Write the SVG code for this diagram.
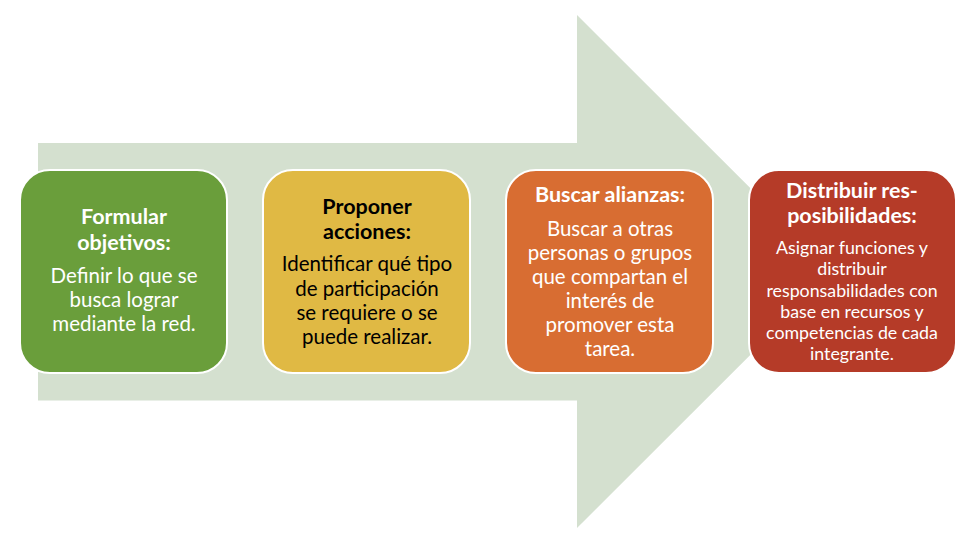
<svg xmlns="http://www.w3.org/2000/svg" width="962" height="538" viewBox="0 0 962 538">
<style>
.box{stroke:#ffffff;stroke-width:2}
text{font-family:Lato,"Open Sans","Liberation Sans",sans-serif;text-anchor:middle}
.t{font-weight:bold;font-size:21.5px}
.b{font-size:20.5px}
.s{font-size:17.8px}
.w{fill:#ffffff}
.k{fill:#000000}
</style>
<rect width="962" height="538" fill="#ffffff"/>
<g id="arrow">
<path d="M38 143 H577 V15 L834 271.5 L577 528 V400.5 H38 Z" fill="#d4e0cf"/>
</g>
<g id="connectors"></g>
<g id="node1">
<rect class="box" x="20" y="170" width="207" height="203" rx="30" fill="#6a9e3b"/>
<text class="t w" x="124" y="224">Formular</text>
<text class="t w" x="124" y="250">objetivos:</text>
<text class="b w" x="124" y="283">Definir lo que se</text>
<text class="b w" x="124" y="307">busca lograr</text>
<text class="b w" x="124" y="331">mediante la red.</text>
</g>
<g id="node2">
<rect class="box" x="263" y="170" width="207" height="203" rx="30" fill="#e0b944"/>
<text class="t k" x="367" y="214">Proponer</text>
<text class="t k" x="367" y="239">acciones:</text>
<text class="b k" x="367" y="271">Identificar qué tipo</text>
<text class="b k" x="367" y="296">de participación</text>
<text class="b k" x="367" y="320">se requiere o se</text>
<text class="b k" x="367" y="344">puede realizar.</text>
</g>
<g id="node3">
<rect class="box" x="506" y="170" width="207" height="203" rx="30" fill="#d86d32"/>
<text class="t w" x="610" y="202">Buscar alianzas:</text>
<text class="b w" x="610" y="236">Buscar a otras</text>
<text class="b w" x="610" y="260">personas o grupos</text>
<text class="b w" x="610" y="284">que compartan el</text>
<text class="b w" x="610" y="308">interés de</text>
<text class="b w" x="610" y="332">promover esta</text>
<text class="b w" x="610" y="356">tarea.</text>
</g>
<g id="node4">
<rect class="box" x="749" y="170" width="207" height="203" rx="30" fill="#b53b28"/>
<text class="t w" x="852" y="198">Distribuir res-</text>
<text class="t w" x="852" y="223">posibilidades:</text>
<text class="s w" x="852" y="254">Asignar funciones y</text>
<text class="s w" x="852" y="275">distribuir</text>
<text class="s w" x="852" y="297">responsabilidades con</text>
<text class="s w" x="852" y="318">base en recursos y</text>
<text class="s w" x="852" y="339">competencias de cada</text>
<text class="s w" x="852" y="360">integrante.</text>
</g>
</svg>
